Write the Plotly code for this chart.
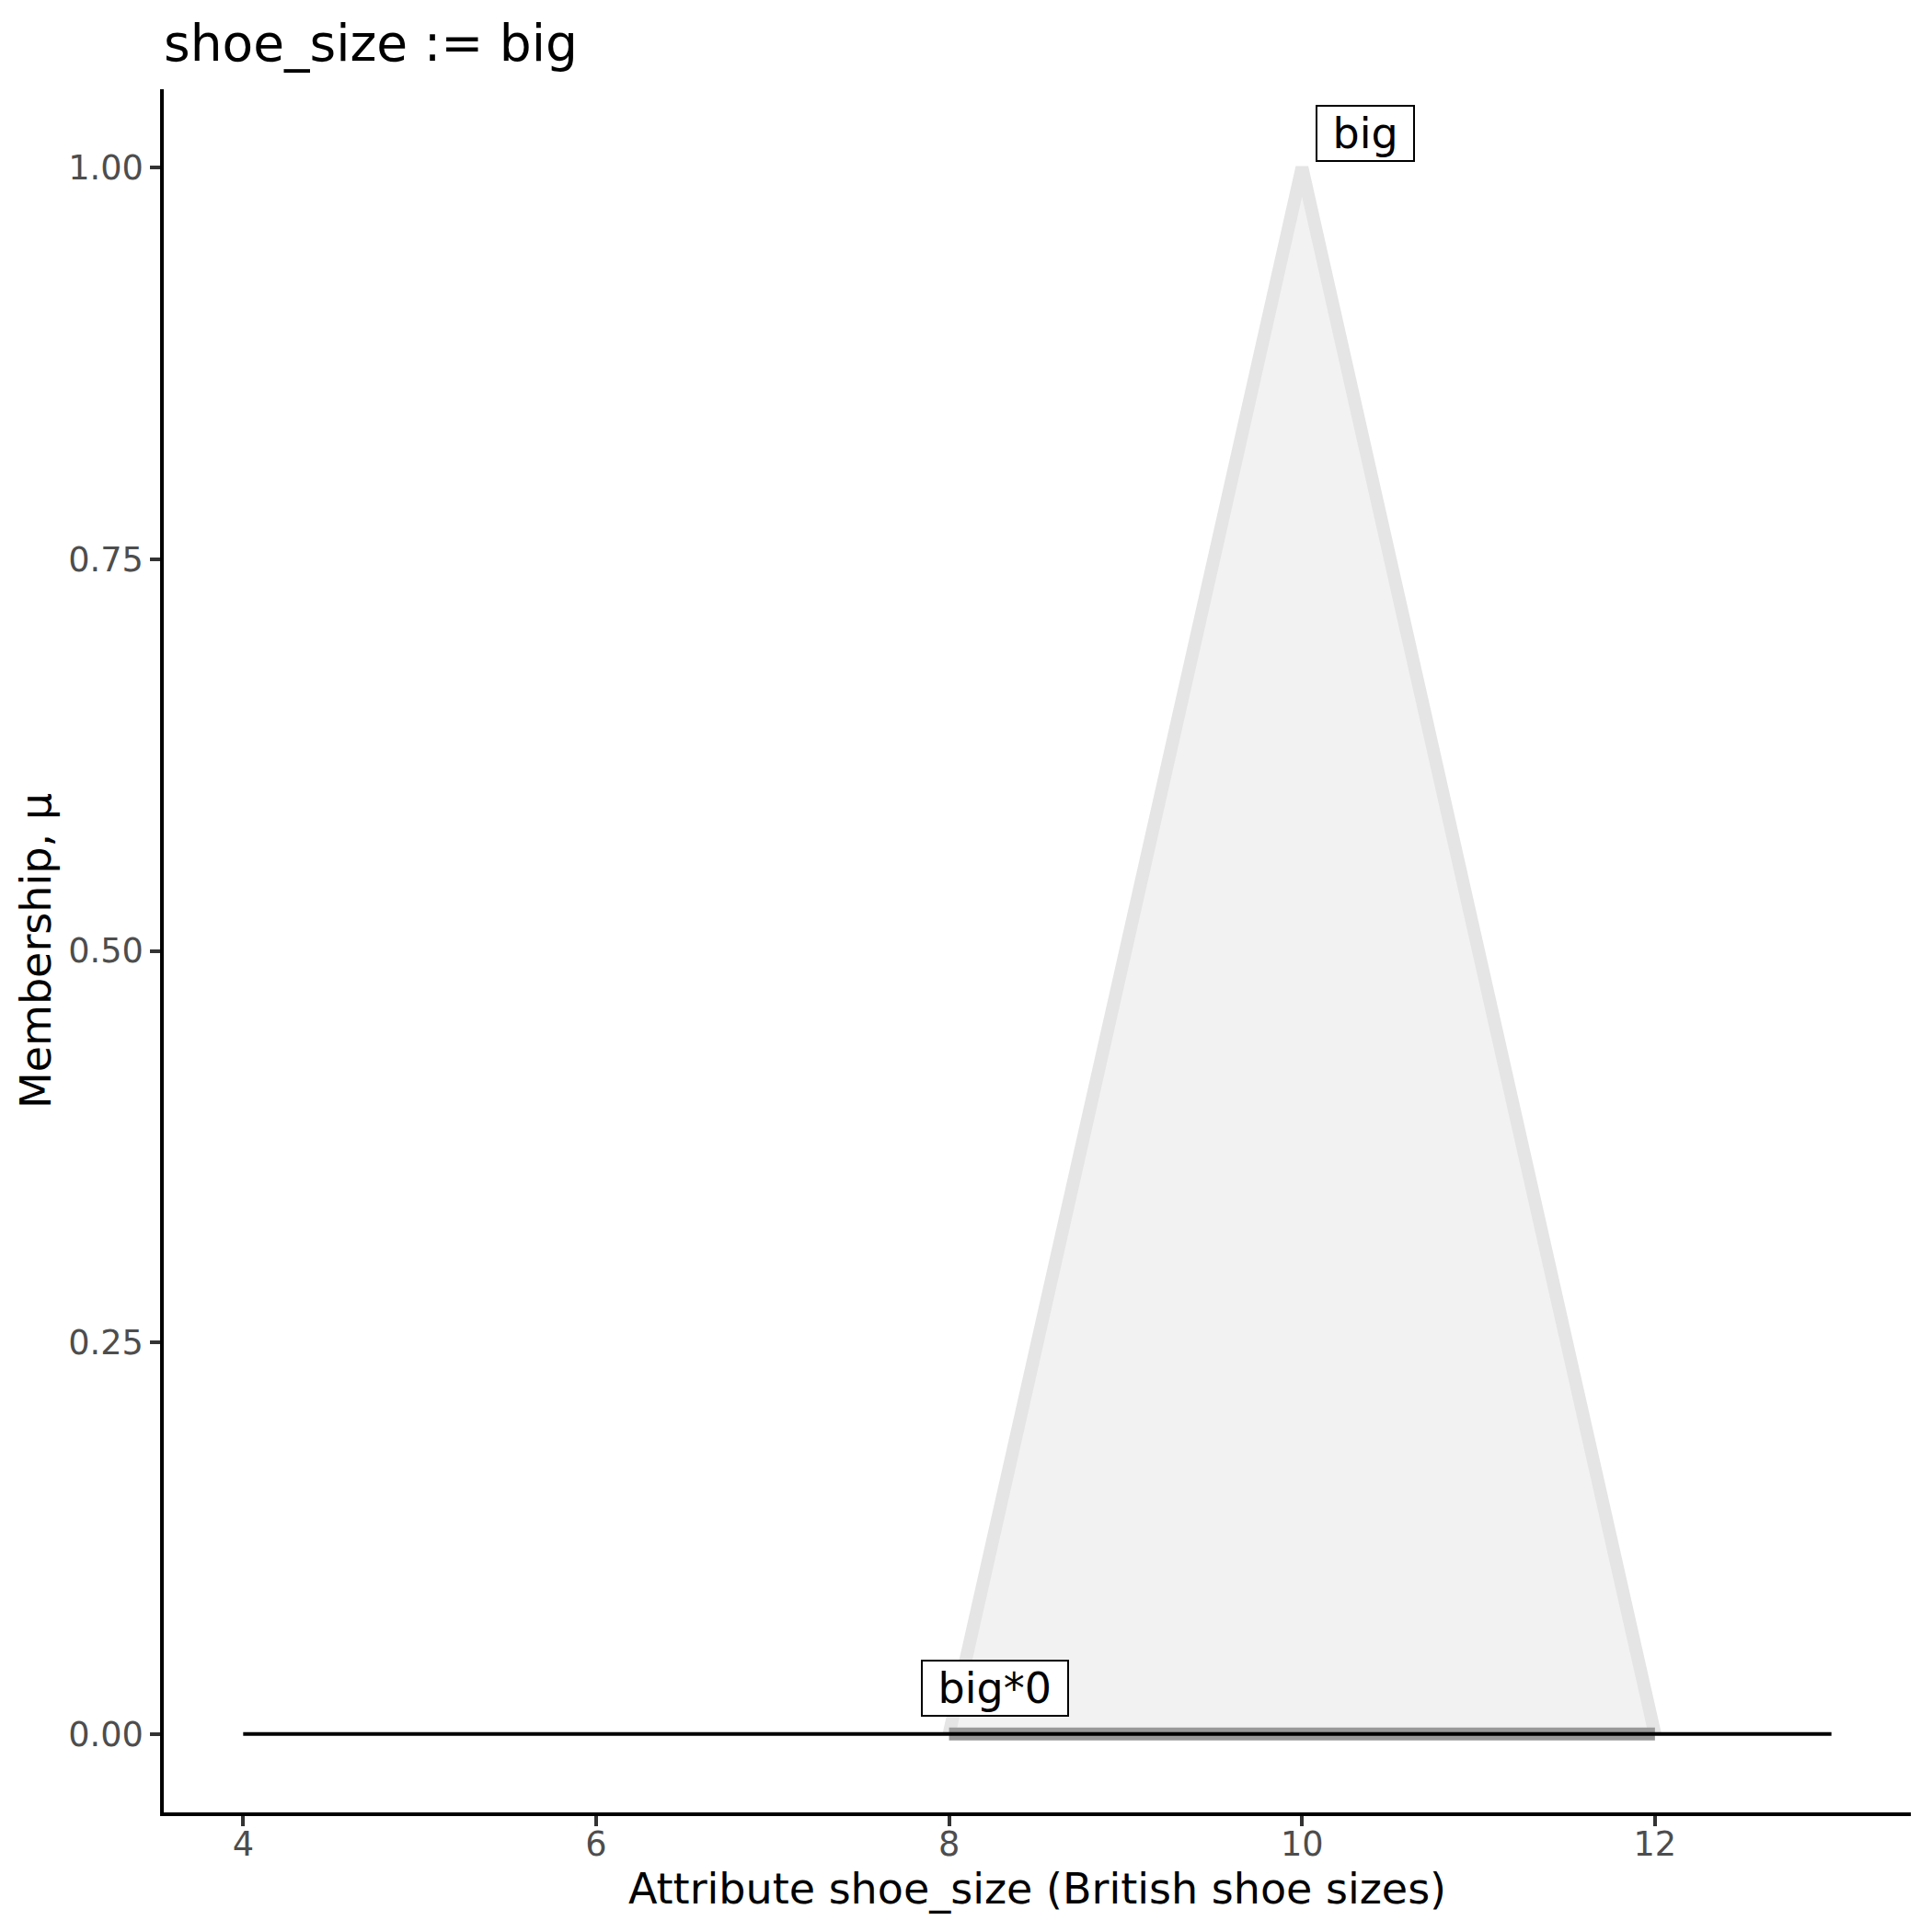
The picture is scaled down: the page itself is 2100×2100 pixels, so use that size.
import plotly.graph_objects as go

# Data
set_x = [8, 10, 12]            # fuzzy set "big" support/peak
set_mu = [0.0, 1.0, 0.0]
scaled_x = [8, 12]             # big*0 (all zeros on support)
scaled_mu = [0.0, 0.0]
result_x = [4, 13]             # resulting membership line
result_mu = [0.0, 0.0]
label_names = ["big", "big*0"]
label_x = [10.36, 8.26]
label_y = [1.022, 0.029]

x_ticks = [4, 6, 8, 10, 12]
y_ticks = [0.0, 0.25, 0.5, 0.75, 1.0]
y_ticklabels = ["0.00", "0.25", "0.50", "0.75", "1.00"]

FONT = "DejaVu Sans"

fig = go.Figure()
fig.add_trace(go.Scatter(
    x=set_x, y=set_mu, mode="lines", fill="toself",
    fillcolor="#F2F2F2", line=dict(color="#E5E5E5", width=14),
    hoverinfo="skip", showlegend=False))
fig.add_trace(go.Scatter(
    x=scaled_x, y=scaled_mu, mode="lines",
    line=dict(color="#999999", width=14),
    hoverinfo="skip", showlegend=False))
fig.add_trace(go.Scatter(
    x=result_x, y=result_mu, mode="lines",
    line=dict(color="black", width=4),
    hoverinfo="skip", showlegend=False))

for name, lx, ly in zip(label_names, label_x, label_y):
    fig.add_annotation(
        x=lx, y=ly, xref="x", yref="y", text=" " + name + " ",
        showarrow=False, xanchor="center", yanchor="middle",
        font=dict(family=FONT, size=46, color="black"),
        bgcolor="white", bordercolor="black", borderwidth=2, borderpad=2)

fig.update_layout(
    width=2100, height=2100,
    margin=dict(l=170, r=31, t=89, b=138),
    paper_bgcolor="white", plot_bgcolor="white",
    font=dict(family=FONT),
    title=dict(text="shoe_size := big", x=170/2100, xanchor="left",
               y=1 - 39/2100, yanchor="middle",
               font=dict(family=FONT, size=55, color="black")),
    showlegend=False,
)
fig.update_xaxes(
    range=[3.55, 13.45], tickvals=x_ticks, ticktext=[str(v) for v in x_ticks],
    showgrid=False, zeroline=False, showline=True, linecolor="black", linewidth=3.5,
    ticks="outside", ticklen=11, tickwidth=3.5, tickcolor="#333333",
    ticklabelstandoff=-12,
    tickfont=dict(family=FONT, size=36.7, color="#4D4D4D"),
    title=dict(text="Attribute shoe_size (British shoe sizes)", standoff=10,
               font=dict(family=FONT, size=46, color="black")))
fig.update_yaxes(
    range=[-0.05, 1.05], tickvals=y_ticks, ticktext=y_ticklabels,
    showgrid=False, zeroline=False, showline=True, linecolor="black", linewidth=3.5,
    ticks="outside", ticklen=11, tickwidth=3.5, tickcolor="#333333",
    tickfont=dict(family=FONT, size=36.7, color="#4D4D4D"),
    title=dict(text="Membership, μ", standoff=5,
               font=dict(family=FONT, size=46, color="black")))

fig.write_html("out.html")
